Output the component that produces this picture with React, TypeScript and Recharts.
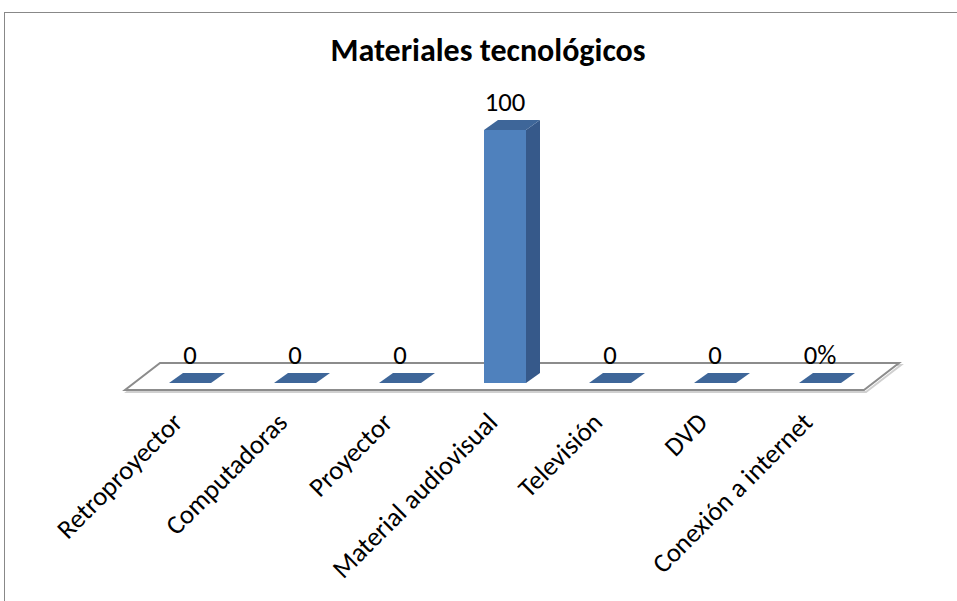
import React from "react";
import { BarChart, Bar, XAxis, YAxis, ReferenceArea, LabelList } from "recharts";

const categories = [
  "Retroproyector",
  "Computadoras",
  "Proyector",
  "Material audiovisual",
  "Televisión",
  "DVD",
  "Conexión a internet",
];
const values = [0, 0, 0, 100, 0, 0, 0];
const valueLabels = ["0", "0", "0", "100", "0", "0", "0%"];
const chartTitle = "Materiales tecnológicos";

const data = categories.map((name, i) => ({ name, value: values[i], label: valueLabels[i] }));

const FONT = "Carlito, Lato, 'Open Sans', sans-serif";
const DX = 14;
const DY = 10;

const Bar3D = (props: any) => {
  const { x, y, width, height } = props;
  if (x == null || y == null) return null;
  const h = Math.max(0, height || 0);
  return (
    <g>
      {h > 0 && <rect x={x} y={y} width={width} height={h} fill="#4F81BD" />}
      {h > 0 && (
        <polygon
          points={`${x + width},${y} ${x + width + DX},${y - DY} ${x + width + DX},${y + h - DY} ${x + width},${y + h}`}
          fill="#36598A"
        />
      )}
      <polygon
        points={`${x},${y} ${x + DX},${y - DY} ${x + width + DX},${y - DY} ${x + width},${y}`}
        fill="#3E6699"
      />
    </g>
  );
};

const Floor = (props: any) => {
  const { x, y, width, height } = props;
  if (x == null || y == null) return null;
  const b = y + height;
  const pts = `${x - 12.5},${b} ${x + width - 8.5},${b} ${x + width + 26.5},${y} ${x + 22.5},${y}`;
  const shadow = `${x - 10.5},${b + 2} ${x + width - 6.5},${b + 2} ${x + width + 28.5},${y + 2} ${x + 24.5},${y + 2}`;
  return (
    <g>
      <polygon points={shadow} fill="none" stroke="#d0d0d0" strokeWidth={2} />
      <polygon points={pts} fill="#ffffff" stroke="#8c8c8c" strokeWidth={2} />
    </g>
  );
};

const Tick = (props: any) => {
  const { x, payload } = props;
  const tx = x - 6;
  const ty = 424;
  return (
    <text
      x={tx}
      y={ty}
      transform={`rotate(-45, ${tx}, ${ty})`}
      textAnchor="end"
      fontFamily={FONT}
      fontSize={26.7}
      fill="#000"
    >
      {payload.value}
    </text>
  );
};

const ValueLabel = (props: any) => {
  const { x, y, width, value } = props;
  return (
    <text x={x + width / 2} y={y - 19} textAnchor="middle" fontFamily={FONT} fontSize={26.7} fill="#000">
      {value}
    </text>
  );
};

export default function App() {
  return (
    <div style={{ position: "absolute", left: 0, top: 0, width: 957, height: 601, overflow: "hidden", background: "#fff" }}>
      <div
        style={{
          position: "absolute",
          left: 4,
          top: 12,
          width: 1000,
          height: 700,
          borderLeft: "1.5px solid #888",
          borderTop: "1.5px solid #888",
        }}
      />
      <div
        style={{
          position: "absolute",
          left: 0,
          width: 976,
          top: 31,
          textAlign: "center",
          fontFamily: FONT,
          fontWeight: "bold",
          fontSize: 32,
          lineHeight: "40px",
          color: "#000",
          whiteSpace: "nowrap",
        }}
      >
        {chartTitle}
      </div>
      <div style={{ position: "absolute", left: 0, top: 0 }}>
        <BarChart
          width={957}
          height={601}
          data={data}
          margin={{ top: 117.35, right: 84.5, left: 137.5, bottom: 5.35 }}
          barCategoryGap="30%"
        >
          <ReferenceArea y1={-2.77} y2={7.9} shape={Floor} ifOverflow="visible" />
          <XAxis dataKey="name" height={200} axisLine={false} tickLine={false} interval={0} tick={<Tick />} />
          <YAxis hide domain={[-5, 105]} />
          <Bar dataKey="value" shape={Bar3D} isAnimationActive={false}>
            <LabelList dataKey="label" content={<ValueLabel />} />
          </Bar>
        </BarChart>
      </div>
    </div>
  );
}
